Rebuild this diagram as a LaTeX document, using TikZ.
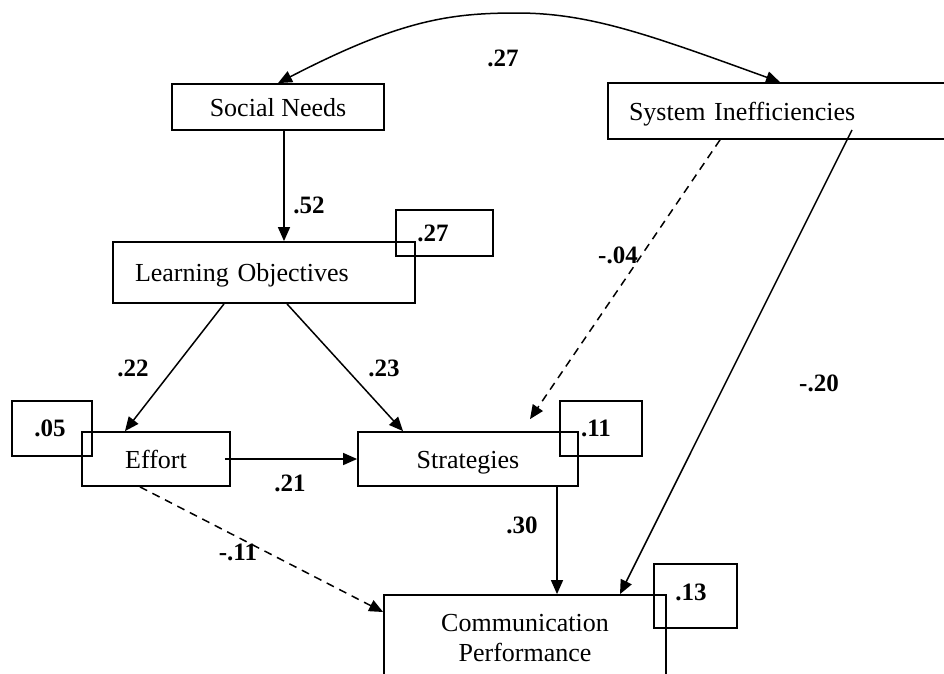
\documentclass[tikz,border=0pt]{standalone}
\usepackage{fontspec}
\setmainfont{Liberation Serif}
\usetikzlibrary{arrows.meta}
\begin{document}
\begin{tikzpicture}[x=1pt,y=-1pt,
  box/.style={draw,line width=1.8pt,inner sep=0pt,text height=18pt,text depth=0pt,font=\fontsize{26}{30}\selectfont},
  resid/.style={draw,line width=1.8pt,inner sep=0pt},
  txt/.style={inner sep=0pt,font=\fontsize{26}{30}\selectfont},
  lab/.style={inner sep=0pt,font=\fontsize{25}{30}\selectfont\bfseries},
  conn/.style={line width=1.5pt,-{Triangle[length=14pt,width=12pt]}},
  dconn/.style={conn,dash pattern=on 8pt off 6pt}]
\useasboundingbox (0,0) rectangle (944,673);
\begin{scope}
\clip (0,0) rectangle (944,673);
% main boxes
\node[box,minimum width=212pt,minimum height=46pt] (sn) at (278,107) {Social Needs};
\node[box,minimum width=302pt,minimum height=61pt,text width=258pt,align=left,inner xsep=22pt] (lo) at (264,272.5) {Learning Objectives};
\node[box,minimum width=347pt,minimum height=56pt,text width=305pt,align=left,inner xsep=21pt] (si) at (781.5,111) {System Inefficiencies};
\node[box,minimum width=148pt,minimum height=54pt] (eff) at (156,459) {Effort};
\node[box,minimum width=220pt,minimum height=54pt] (str) at (468,459) {Strategies};
\node[resid,minimum width=282pt,minimum height=95pt] (cp) at (525,642.5) {};
\node[txt,align=center] (cptext) at (525,638) {Communication\\Performance};
% residual boxes
\node[resid,minimum width=97pt,minimum height=46pt] (r27) at (444.5,233) {};
\node[lab] (r27t) at (433,233) {.27};
\node[resid,minimum width=80pt,minimum height=55pt] (r05) at (52,428.5) {};
\node[lab] (r05t) at (50,428) {.05};
\node[resid,minimum width=82pt,minimum height=55pt] (r11) at (601,428.5) {};
\node[lab] (r11t) at (596,428) {.11};
\node[resid,minimum width=83pt,minimum height=64pt] (r13) at (695.5,596) {};
\node[lab] (r13t) at (691,592) {.13};
\end{scope}
% connectors
\coordinate (peak) at (517,13);
\draw[line width=1.5pt,{Triangle[length=14pt,width=12pt]}-{Triangle[length=14pt,width=12pt]}]
  (sn.north) .. controls (400,20) and (450,13) .. (peak)
  .. controls (590,13) and (650,35) .. ([xshift=-1.5pt]si.north);
\draw[conn] ([xshift=6pt]sn.south) -- ([xshift=20pt]lo.north);
\draw[conn] ([xshift=-40pt]lo.south) -- ([xshift=-31pt]eff.north);
\draw[conn] ([xshift=23pt]lo.south) -- ([xshift=-65pt]str.north);
\draw[conn] ([xshift=-6pt]eff.east) -- (str.west);
\draw[dconn] ([xshift=-61.5pt]si.south) -- ([xshift=62pt,yshift=12pt]str.north);
\draw[conn] ([xshift=70.5pt,yshift=10pt]si.south) -- ([xshift=95pt]cp.north);
\draw[conn] ([xshift=89pt]str.south) -- ([xshift=32pt]cp.north);
\draw[dconn] ([xshift=-16pt]eff.south) -- ([yshift=30.5pt]cp.west);
% path labels
\node[lab] (l27) at (503,58) {.27};
\node[lab] (l52) at (309,205) {.52};
\node[lab] (l22) at (133,368) {.22};
\node[lab] (l23) at (384,368) {.23};
\node[lab] (l04) at (618,255) {-.04};
\node[lab] (l20) at (819,383) {-.20};
\node[lab] (l21) at (290,483) {.21};
\node[lab] (l30) at (522,525) {.30};
\node[lab] (l11) at (238,552) {-.11};
\end{tikzpicture}
\end{document}
